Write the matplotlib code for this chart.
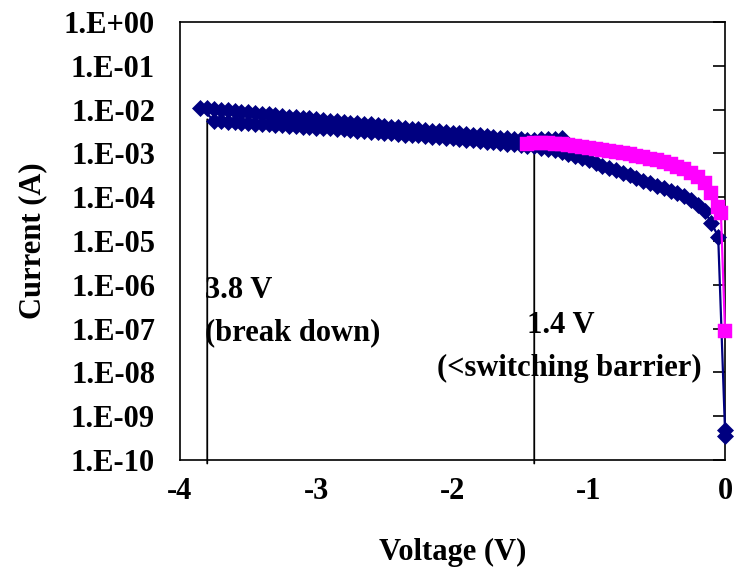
import matplotlib
matplotlib.use("Agg")
import matplotlib.pyplot as plt
from matplotlib.ticker import FixedLocator, FuncFormatter
import numpy as np

# Sweep 1 (blue): 0 V out to -3.75 V
sweep1_v = [0.00, 0.00, -0.05, -0.10, -0.15, -0.20, -0.25, -0.30, -0.35, -0.40,
            -0.45, -0.50, -0.55, -0.60, -0.65, -0.70, -0.75, -0.80, -0.85, -0.90,
            -0.95, -1.00, -1.05, -1.10, -1.15, -1.20, -1.25, -1.30, -1.35, -1.40,
            -1.45, -1.50, -1.55, -1.60, -1.65, -1.70, -1.75, -1.80, -1.85, -1.90,
            -1.95, -2.00, -2.05, -2.10, -2.15, -2.20, -2.25, -2.30, -2.35, -2.40,
            -2.45, -2.50, -2.55, -2.60, -2.65, -2.70, -2.75, -2.80, -2.85, -2.90,
            -2.95, -3.00, -3.05, -3.10, -3.15, -3.20, -3.25, -3.30, -3.35, -3.40,
            -3.45, -3.50, -3.55, -3.60, -3.65, -3.70, -3.75]
sweep1_i = [3.5e-10, 4.8e-10, 1.26e-5, 2.6e-5, 4.8e-5, 6.8e-5, 8.7e-5, 1.05e-4, 1.23e-4, 1.41e-4,
            1.58e-4, 1.82e-4, 2.09e-4, 2.40e-4, 2.75e-4, 3.16e-4, 3.55e-4, 4.07e-4, 4.57e-4, 5.25e-4,
            6.03e-4, 6.92e-4, 7.76e-4, 8.70e-4, 9.55e-4, 1.07e-3, 1.17e-3, 1.26e-3, 1.35e-3, 1.45e-3,
            1.51e-3, 1.55e-3, 1.62e-3, 1.66e-3, 1.74e-3, 1.78e-3, 1.86e-3, 1.91e-3, 2.00e-3, 2.04e-3,
            2.09e-3, 2.19e-3, 2.24e-3, 2.34e-3, 2.40e-3, 2.45e-3, 2.57e-3, 2.63e-3, 2.69e-3, 2.82e-3,
            2.88e-3, 2.95e-3, 3.09e-3, 3.16e-3, 3.24e-3, 3.31e-3, 3.47e-3, 3.55e-3, 3.63e-3, 3.72e-3,
            3.80e-3, 3.89e-3, 3.98e-3, 4.07e-3, 4.17e-3, 4.27e-3, 4.37e-3, 4.47e-3, 4.57e-3, 4.68e-3,
            4.79e-3, 4.90e-3, 5.00e-3, 5.13e-3, 5.25e-3, 5.37e-3, 5.62e-3]

# Sweep 2 (blue): after breakdown at -3.85 V back toward -1.2 V
sweep2_v = [-3.85, -3.80, -3.75, -3.70, -3.65, -3.60, -3.55, -3.50, -3.45, -3.40,
            -3.35, -3.30, -3.25, -3.20, -3.15, -3.10, -3.05, -3.00, -2.95, -2.90,
            -2.85, -2.80, -2.75, -2.70, -2.65, -2.60, -2.55, -2.50, -2.45, -2.40,
            -2.35, -2.30, -2.25, -2.20, -2.15, -2.10, -2.05, -2.00, -1.95, -1.90,
            -1.85, -1.80, -1.75, -1.70, -1.65, -1.60, -1.55, -1.50, -1.45, -1.40,
            -1.35, -1.30, -1.25, -1.20]
sweep2_i = [1.11e-2, 1.07e-2, 1.02e-2, 1.00e-2, 9.6e-3, 9.3e-3, 8.9e-3, 8.7e-3, 8.3e-3, 8.1e-3,
            7.8e-3, 7.4e-3, 7.2e-3, 6.9e-3, 6.7e-3, 6.5e-3, 6.3e-3, 6.0e-3, 5.9e-3, 5.6e-3,
            5.5e-3, 5.2e-3, 5.0e-3, 4.9e-3, 4.7e-3, 4.6e-3, 4.4e-3, 4.3e-3, 4.1e-3, 4.0e-3,
            3.8e-3, 3.6e-3, 3.55e-3, 3.4e-3, 3.3e-3, 3.2e-3, 3.1e-3, 2.95e-3, 2.9e-3, 2.75e-3,
            2.7e-3, 2.57e-3, 2.45e-3, 2.4e-3, 2.3e-3, 2.24e-3, 2.14e-3, 2.09e-3, 2.04e-3, 2.04e-3,
            2.09e-3, 2.09e-3, 2.14e-3, 2.19e-3]

# Low-voltage sweep (magenta): -1.45 V to 0 V
low_v = [-1.45, -1.40, -1.35, -1.30, -1.25, -1.20, -1.15, -1.10, -1.05, -1.00,
         -0.95, -0.90, -0.85, -0.80, -0.75, -0.70, -0.65, -0.60, -0.55, -0.50,
         -0.45, -0.40, -0.35, -0.30, -0.25, -0.20, -0.15, -0.10, -0.05, -0.03, 0.00]
low_i = [1.66e-3, 1.70e-3, 1.74e-3, 1.70e-3, 1.66e-3, 1.62e-3, 1.55e-3, 1.48e-3, 1.41e-3, 1.35e-3,
         1.29e-3, 1.20e-3, 1.15e-3, 1.10e-3, 1.02e-3, 9.55e-4, 8.91e-4, 8.32e-4, 7.59e-4, 6.92e-4,
         6.31e-4, 5.62e-4, 5.01e-4, 4.37e-4, 3.63e-4, 2.88e-4, 2.09e-4, 1.26e-4, 6.0e-5, 4.4e-5, 8.9e-8]

breakdown_v = -3.8
breakdown_i = 6.0e-3
barrier_v = -1.4
barrier_i = 1.4e-3

x_ticks = [-4, -3, -2, -1, 0]
y_exponents = list(range(-10, 1))

NAVY = "#000080"
MAGENTA = "#FF00FF"
FONT = dict(family="Liberation Serif", weight="bold", size=22)

fig = plt.figure(figsize=(7.36, 5.68), dpi=100)
ax = fig.add_axes([180 / 736, 1 - 460 / 568, 545 / 736, 438 / 568])

blue_v = sweep1_v + sweep2_v
blue_i = sweep1_i + sweep2_i
ax.plot(blue_v, blue_i, color=NAVY, lw=1.6, marker="D", ms=8.6, mec=NAVY, mew=0.5,
        clip_on=False, zorder=3)
ax.plot(low_v, low_i, color=MAGENTA, lw=1.6, marker="s", ms=9.6, mec=MAGENTA, mew=0.3,
        clip_on=False, zorder=4)

ax.set_yscale("log")
ax.set_xlim(-4, 0)
ax.set_ylim(1e-10, 1e0)

# Marker lines for the two voltages, running from the curve down past the x axis
for v, i in [(breakdown_v, breakdown_i), (barrier_v, barrier_i)]:
    ax.annotate("", xy=(v, i), xycoords="data",
                xytext=(v, -0.008), textcoords=("data", "axes fraction"),
                arrowprops=dict(arrowstyle="-", lw=1.3, color="black",
                                shrinkA=0, shrinkB=0),
                annotation_clip=False, zorder=2)

ax.text(-3.82, 10 ** -6.14, "3.8 V", ha="left", va="center", **FONT)
ax.text(-3.82, 10 ** -7.10, "(break down)", ha="left", va="center", **FONT)
ax.text(-1.45, 10 ** -6.92, "1.4 V", ha="left", va="center", **FONT)
ax.text(-1.14, 10 ** -7.90, "(<switching barrier)", ha="center", va="center", **FONT)

ax.yaxis.set_major_locator(FixedLocator([10.0 ** e for e in y_exponents]))
ax.yaxis.set_minor_locator(FixedLocator([]))
ax.yaxis.set_major_formatter(
    FuncFormatter(lambda val, pos: "1.E{:+03d}".format(int(round(np.log10(val))))))
ax.tick_params(axis="y", which="major", left=False, right=True, labelleft=True,
               labelright=False, direction="in", length=9, width=1.2, pad=18)

ax.set_xticks(x_ticks)
ax.set_xticklabels([str(t) for t in x_ticks])
ax.tick_params(axis="x", bottom=False, top=False, length=0, pad=12)

for lbl in ax.get_xticklabels() + ax.get_yticklabels():
    lbl.set_fontfamily("Liberation Serif")
    lbl.set_fontweight("bold")
    lbl.set_fontsize(22)

for sp in ax.spines.values():
    sp.set_linewidth(1.2)
    sp.set_color("black")

ax.set_xlabel("Voltage (V)", labelpad=23, **FONT)
ax.set_ylabel("Current (A)", labelpad=12, **FONT)

fig.savefig("out.png", dpi=100)
